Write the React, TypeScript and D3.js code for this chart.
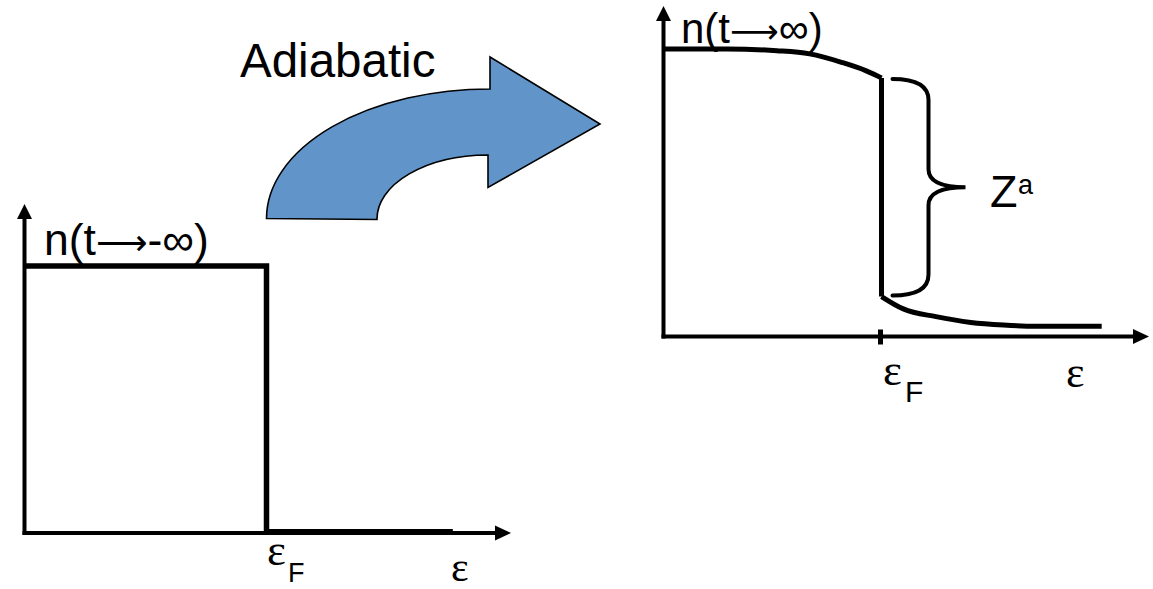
import React from "react";
import * as d3 from "d3";

// Occupation before the sweep: a sharp Fermi step (ε in units of εF, n in [0,1])
const initialEps = [0, 1, 1, 1.77];
const initialOcc = [1, 1, 0.005, 0.005];

// Occupation after the sweep: smoothed branch below εF, jump of size Z^a, tail above εF
const finalLowerEps = [0, 0.29, 0.52, 0.67, 0.82, 0.93, 0.99, 1.0];
const finalLowerOcc = [1, 1, 0.994, 0.983, 0.953, 0.924, 0.903, 0.899];
const finalUpperEps = [1.0, 1.1, 1.25, 1.41, 1.56, 1.71, 2.01];
const finalUpperOcc = [0.139, 0.096, 0.069, 0.049, 0.04, 0.036, 0.036];

const W = 1153;
const H = 589;
const FONT = "'Liberation Sans', Arial, sans-serif";
const GREEK = "'Liberation Serif', 'Times New Roman', serif";
const ARROWFONT = "'DejaVu Sans', sans-serif";

export default function App() {
  // left panel scales
  const xL = d3.scaleLinear().domain([0, 2]).range([24.5, 508.5]);
  const yL = d3.scaleLinear().domain([0, 1]).range([533, 266]);
  // right panel scales
  const xR = d3.scaleLinear().domain([0, 2]).range([663.5, 1099.5]);
  const yR = d3.scaleLinear().domain([0, 1]).range([336.5, 49]);

  const stepLine = d3
    .line<number>()
    .x((_, i) => xL(initialEps[i]))
    .y((d) => yL(d))
    .curve(d3.curveLinear);

  const lowerLine = d3
    .line<number>()
    .x((_, i) => xR(finalLowerEps[i]))
    .y((d) => yR(d))
    .curve(d3.curveMonotoneX);

  const upperLine = d3
    .line<number>()
    .x((_, i) => xR(finalUpperEps[i]))
    .y((d) => yR(d))
    .curve(d3.curveMonotoneX);

  // jump at εF in the final distribution
  const jumpTop = yR(finalLowerOcc[finalLowerOcc.length - 1]);
  const jumpBot = yR(finalUpperOcc[0]);
  const xF = xR(1);

  // curly brace spanning the jump
  const bx0 = xF + 11;
  const bx1 = xF + 47;
  const tipX = xF + 84;
  const mid = (jumpTop + jumpBot) / 2;
  const r = 20;
  const brace = [
    `M${bx0},${jumpTop + 1}`,
    `Q${bx1},${jumpTop + 1} ${bx1},${jumpTop + r + 2}`,
    `L${bx1},${mid - 18}`,
    `Q${bx1},${mid} ${tipX},${mid}`,
    `Q${bx1},${mid} ${bx1},${mid + 18}`,
    `L${bx1},${jumpBot - r - 2}`,
    `Q${bx1},${jumpBot - 1} ${bx0},${jumpBot - 1}`,
  ].join(" ");

  // curved "Adiabatic" arrow between the panels
  const ox = 490, oy = 218.5; // centre of the outer arc
  const arrow = [
    `M266.5,218.5`,
    `A${ox - 266.5},${oy - 89} 0 0 1 ${ox},89`,
    `L${ox},57`,
    `L600,124`,
    `L488,187.5`,
    `L488,155`,
    `A${488 - 377},${219 - 155} 0 0 0 377,219.5`,
    `Z`,
  ].join(" ");

  const arrowHeadUp = (x: number, y: number) =>
    `M${x},${y} L${x - 7.5},${y + 15} L${x + 7.5},${y + 15} Z`;
  const arrowHeadRight = (x: number, y: number) =>
    `M${x},${y} L${x - 16},${y - 7.5} L${x - 16},${y + 7.5} Z`;

  return (
    <svg
      width={W}
      height={H}
      style={{ position: "absolute", left: 0, top: 0, background: "#fff" }}
    >
      {/* transition arrow */}
      <path d={arrow} fill="#6195CA" stroke="#000" strokeWidth={1.6} />
      <text x={240} y={77} fontFamily={FONT} fontSize={47.5} fill="#000">
        Adiabatic
      </text>

      {/* left panel axes */}
      <g stroke="#000" strokeWidth={4}>
        <line x1={xL(0)} y1={yL(0) + 2} x2={xL(0)} y2={218} />
        <line x1={xL(0) - 2} y1={yL(0)} x2={496} y2={yL(0)} />
      </g>
      <path d={arrowHeadUp(xL(0), 204)} fill="#000" />
      <path d={arrowHeadRight(511, yL(0))} fill="#000" />

      {/* left panel distribution */}
      <path
        d={stepLine(initialOcc) || ""}
        fill="none"
        stroke="#000"
        strokeWidth={5.5}
        strokeLinejoin="miter"
      />
      <text x={44} y={255} fontFamily={FONT} fontSize={44.5} fill="#000">
        n(t<tspan fontFamily={ARROWFONT} fontSize={36}>⟶</tspan>-∞)
      </text>
      <text x={267} y={565} fontFamily={GREEK} fontSize={45} fill="#000">
        ε
      </text>
      <text x={288} y={582} fontFamily={FONT} fontSize={27} fill="#000">
        F
      </text>
      <text x={451} y={581} fontFamily={GREEK} fontSize={42} fill="#000">
        ε
      </text>

      {/* right panel axes */}
      <g stroke="#000" strokeWidth={4}>
        <line x1={xR(0)} y1={yR(0) + 2} x2={xR(0)} y2={20} />
        <line x1={xR(0) - 2} y1={yR(0)} x2={1134} y2={yR(0)} />
        <line x1={xF - 1} y1={yR(0) - 7} x2={xF - 1} y2={yR(0) + 8} strokeWidth={5} />
      </g>
      <path d={arrowHeadUp(xR(0), 6)} fill="#000" />
      <path d={arrowHeadRight(1149, yR(0))} fill="#000" />

      {/* right panel distribution */}
      <path d={lowerLine(finalLowerOcc) || ""} fill="none" stroke="#000" strokeWidth={5} />
      <line x1={xF} y1={jumpTop} x2={xF} y2={jumpBot} stroke="#000" strokeWidth={5} />
      <path d={upperLine(finalUpperOcc) || ""} fill="none" stroke="#000" strokeWidth={5} />
      <path d={brace} fill="none" stroke="#000" strokeWidth={4} strokeLinecap="round" />

      <text x={681} y={43} fontFamily={FONT} fontSize={42} fill="#000">
        n(t<tspan fontFamily={ARROWFONT} fontSize={34}>⟶</tspan>∞)
      </text>
      <text x={990} y={207} fontFamily={FONT} fontSize={45} fill="#000">
        Z
      </text>
      <text x={1018} y={194} fontFamily={FONT} fontSize={27} fill="#000">
        a
      </text>
      <text x={883} y={385} fontFamily={GREEK} fontSize={45} fill="#000">
        ε
      </text>
      <text x={905} y={402} fontFamily={FONT} fontSize={30} fill="#000">
        F
      </text>
      <text x={1066} y={387} fontFamily={GREEK} fontSize={44} fill="#000">
        ε
      </text>
    </svg>
  );
}
